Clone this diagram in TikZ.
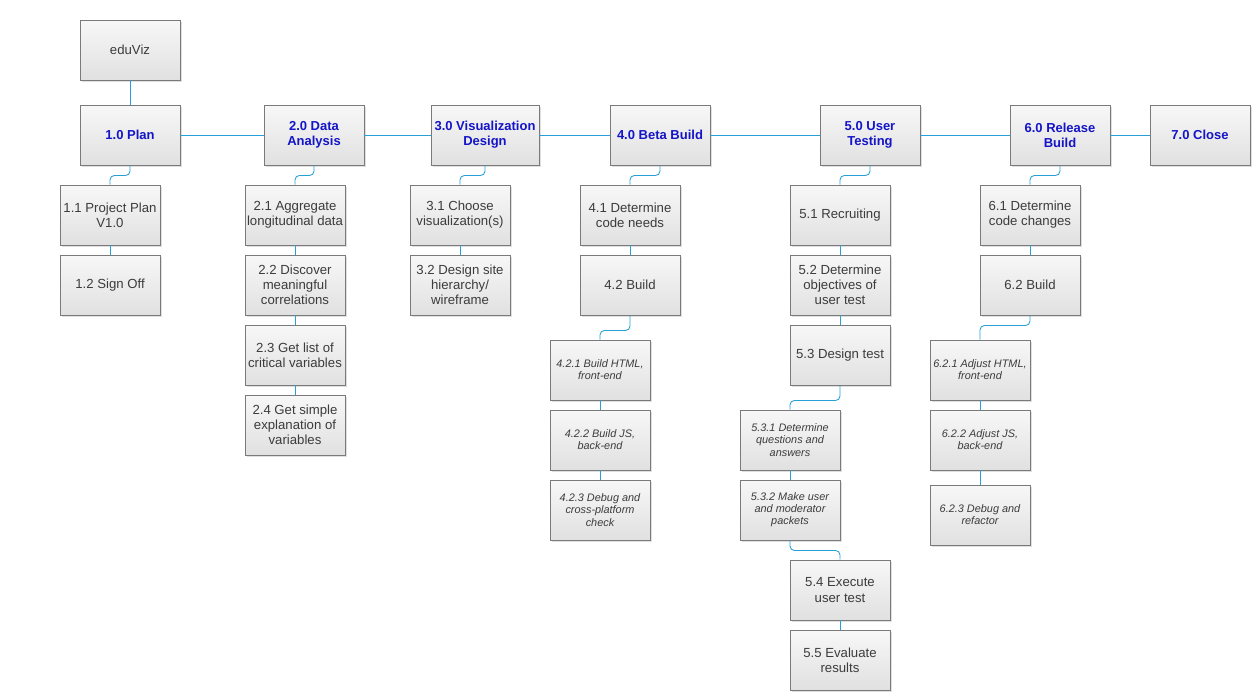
\documentclass[tikz,border=0pt]{standalone}
\usepackage{fontspec}
\setmainfont{Liberation Sans}
\usetikzlibrary{shadows}
\definecolor{wire}{RGB}{40,160,215}
\definecolor{hdtext}{RGB}{20,20,200}
\definecolor{bxtext}{RGB}{60,60,60}
\tikzset{bx/.append style={draw=black!52, line width=0.55pt, top color=black!3, bottom color=black!12,
  minimum width=2cm, minimum height=1.2cm, inner sep=0pt, align=center, text=bxtext,
  font=\fontsize{7.5}{8.6}\selectfont, drop shadow={shadow xshift=1.1pt, shadow yshift=-1.1pt, opacity=0.25}}}
\tikzset{hd/.append style={text=hdtext, font=\fontsize{7.4}{8.6}\selectfont\bfseries}}
\tikzset{sm/.append style={font=\fontsize{6.2}{6.9}\selectfont\itshape}}
\tikzset{ln/.append style={draw=wire, line width=0.5pt, rounded corners=2.5pt}}

\begin{document}
\begin{tikzpicture}[x=0.02cm, y=-0.02cm]
                \useasboundingbox (0,0) rectangle (1254,694);
                % top level
                \node[bx] (root) at (130,50) {eduViz};
                \node[bx,hd] (p1) at (130,135) {1.0 Plan};
                \node[bx,hd] (p2) at (314,135) {2.0 Data\\Analysis};
                \node[bx,hd,minimum width=2.16cm] (p3) at (485,135) {3.0 Visualization\\Design};
                \node[bx,hd] (p4) at (660,135) {4.0 Beta Build};
                \node[bx,hd] (p5) at (870,135) {5.0 User\\Testing};
                \node[bx,hd] (p6) at (1060,135) {6.0 Release\\Build};
                \node[bx,hd] (p7) at (1200,135) {7.0 Close};
                % 1.x
                \node[bx] (t11) at (110,215) {1.1 Project Plan\\V1.0};
                \node[bx] (t12) at (110,285) {1.2 Sign Off};
                % 2.x
                \node[bx] (t21) at (295,215) {2.1 Aggregate\\longitudinal data};
                \node[bx] (t22) at (295,285) {2.2 Discover\\meaningful\\correlations};
                \node[bx] (t23) at (295,355) {2.3 Get list of\\critical variables};
                \node[bx] (t24) at (295,425) {2.4 Get simple\\explanation of\\variables};
                % 3.x
                \node[bx] (t31) at (460,215) {3.1 Choose\\visualization(s)};
                \node[bx] (t32) at (460,285) {3.2 Design site\\hierarchy/\\wireframe};
                % 4.x
                \node[bx] (t41) at (630,215) {4.1 Determine\\code needs};
                \node[bx] (t42) at (630,285) {4.2 Build};
                \node[bx,sm] (t421) at (600,370) {4.2.1 Build HTML,\\front-end};
                \node[bx,sm] (t422) at (600,440) {4.2.2 Build JS,\\back-end};
                \node[bx,sm] (t423) at (600,510) {4.2.3 Debug and\\cross-platform\\check};
                % 5.x
                \node[bx] (t51) at (840,215) {5.1 Recruiting};
                \node[bx] (t52) at (840,285) {5.2 Determine\\objectives of\\user test};
                \node[bx] (t53) at (840,355) {5.3 Design test};
                \node[bx,sm] (t531) at (790,440) {5.3.1 Determine\\questions and\\answers};
                \node[bx,sm] (t532) at (790,510) {5.3.2 Make user\\and moderator\\packets};
                \node[bx] (t54) at (840,590) {5.4 Execute\\user test};
                \node[bx] (t55) at (840,660) {5.5 Evaluate\\results};
                % 6.x
                \node[bx] (t61) at (1030,215) {6.1 Determine\\code changes};
                \node[bx] (t62) at (1030,285) {6.2 Build};
                \node[bx,sm] (t621) at (980,370) {6.2.1 Adjust HTML,\\front-end};
                \node[bx,sm] (t622) at (980,440) {6.2.2 Adjust JS,\\back-end};
                \node[bx,sm] (t623) at (980,515) {6.2.3 Debug and\\refactor};
                % connectors
                \draw[ln] (root) -- (p1);
                \draw[ln] (p1) -- (p2);
                \draw[ln] (p2) -- (p3);
                \draw[ln] (p3) -- (p4);
                \draw[ln] (p4) -- (p5);
                \draw[ln] (p5) -- (p6);
                \draw[ln] (p6) -- (p7);
                \draw[ln] (p1.south) -- ++(0,10) -| (t11.north);
                \draw[ln] (t11) -- (t12);
                \draw[ln] (p2.south) -- ++(0,10) -| (t21.north);
                \draw[ln] (t21) -- (t22);
                \draw[ln] (t22) -- (t23);
                \draw[ln] (t23) -- (t24);
                \draw[ln] (p3.south) -- ++(0,10) -| (t31.north);
                \draw[ln] (t31) -- (t32);
                \draw[ln] (p4.south) -- ++(0,10) -| (t41.north);
                \draw[ln] (t41) -- (t42);
                \draw[ln] (t42.south) -- ++(0,15) -| (t421.north);
                \draw[ln] (t421) -- (t422);
                \draw[ln] (t422) -- (t423);
                \draw[ln] (p5.south) -- ++(0,10) -| (t51.north);
                \draw[ln] (t51) -- (t52);
                \draw[ln] (t52) -- (t53);
                \draw[ln] (t53.south) -- ++(0,15) -| (t531.north);
                \draw[ln] (t531) -- (t532);
                \draw[ln] (t532.south) -- ++(0,10) -| (t54.north);
                \draw[ln] (t54) -- (t55);
                \draw[ln] (p6.south) -- ++(0,10) -| (t61.north);
                \draw[ln] (t61) -- (t62);
                \draw[ln] (t62.south) -- ++(0,10) -| (t621.north);
                \draw[ln] (t621) -- (t622);
                \draw[ln] (t622) -- (t623);
\end{tikzpicture}
\end{document}
